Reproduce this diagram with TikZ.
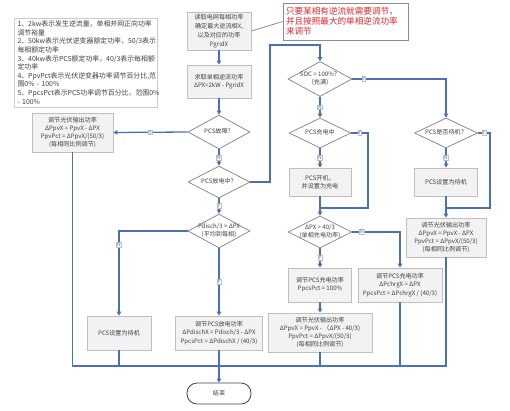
\documentclass[tikz,border=0pt]{standalone}
\usepackage{fontspec}
\setmainfont{Noto Sans CJK SC}
\usetikzlibrary{shapes.geometric,arrows.meta}
\definecolor{lineblue}{HTML}{4A70B5}
\definecolor{boxfill}{HTML}{F2F2F2}
\definecolor{boxdraw}{HTML}{BFBFBF}
\definecolor{diadraw}{HTML}{8C8C8C}
\definecolor{txt}{HTML}{404040}
\definecolor{redtxt}{HTML}{E0262A}
\newcommand{\bxfont}{\fontsize{6.1}{8.2}\selectfont}
\newcommand{\zt}[1]{\makebox[0pt]{\raisebox{-1.5pt}[0pt][0pt]{\begin{tabular}{@{}c@{}}#1\end{tabular}}}}
\tikzset{
  box/.style={draw=boxdraw, fill=boxfill, line width=0.8pt, inner sep=0pt, align=center, font=\bxfont, text=txt},
  dia/.style={diamond, draw=diadraw, fill=white, line width=0.8pt, inner sep=0pt, font=\bxfont, text=txt},
  arr/.style={draw=lineblue, line width=1.3pt, -{Triangle[width=4.5pt,length=4pt]}},
  ln/.style={draw=lineblue, line width=1.3pt},
  lab/.style={fill=white, draw=boxdraw, line width=0.4pt, inner sep=0.6pt, font=\fontsize{5}{5.5}\selectfont, text=lineblue},
}
\begin{document}
\begin{tikzpicture}[x=1pt,y=-1pt]
\useasboundingbox (0,0) rectangle (510,410);
% notes
\node[draw=boxdraw!80, fill=white, line width=0.7pt, inner sep=0pt, minimum width=143pt, minimum height=89pt,
      text width=136pt, align=left, font=\fontsize{6.9}{8.6}\selectfont, text=txt] (notes) at (85.5,62.5)
  {1、2kw表示发生逆流量，单相并网正向功率\\调节裕量\\2、50kw表示光伏逆变器额定功率，50/3表示\\每相额定功率\\3、40kw表示PCS额定功率，40/3表示每相额\\定功率\\4、PpvPct表示光伏逆变器功率调节百分比,范\\围0\% - 100\%\\5、PpcsPct表示PCS功率调节百分比，范围0\%\\- 100\%};
% callout
\node[draw=diadraw, fill=white, line width=0.8pt, inner sep=0pt, minimum width=125pt, minimum height=37pt,
      text width=119pt, align=left, font=\fontsize{8.6}{10}\selectfont, text=redtxt] (callout) at (345.5,21.5)
  {只要某相有逆流就需要调节，\\并且按照最大的单相逆流功率\\来调节};
% central column
\node[box, minimum width=64pt, minimum height=38pt, font=\fontsize{6.1}{8.8}\selectfont] (read) at (219,31) {读取电网每相功率\\确定最大逆流相X,\\以及对应的功率\\PgridX};
\node[box, minimum width=64pt, minimum height=33pt] (calc) at (219,81.5) {求取单相逆流功率\\ΔPX=2kW - PgridX};
\node[dia, minimum width=62pt, minimum height=34pt] (dfault) at (219,132) {\zt{PCS故障？}};
\node[dia, minimum width=62pt, minimum height=32pt] (ddis) at (219,182) {\zt{PCS放电中？}};
\node[dia, minimum width=62pt, minimum height=34pt] (dpd) at (219,231) {\zt{Pdisch/3 > ΔPX\\(平均到每相)}};
\node[box, minimum width=81pt, minimum height=39pt] (pvL) at (72.5,132.5) {调节光伏输出功率\\ΔPpvX = PpvX - ΔPX\\PpvPct = ΔPpvX/(50/3)\\(每相同比例调节)};
\node[box, minimum width=64pt, minimum height=34pt] (sbL) at (119,333) {PCS设置为待机};
\node[box, minimum width=87pt, minimum height=34pt] (dis) at (219,333) {调节PCS放电功率\\ΔPdischX = Pdisch/3 - ΔPX\\PpcsPct = ΔPdischX / (40/3)};
\node[draw=txt, fill=white, line width=0.8pt, rounded corners=10pt, inner sep=0pt, minimum width=64pt, minimum height=21pt, font=\bxfont, text=txt] (fin) at (219,393.5) {结束};
% second column
\node[dia, minimum width=64pt, minimum height=35pt] (dsoc) at (320,79) {\zt{SOC = 100\%？\\（充满）}};
\node[dia, minimum width=62pt, minimum height=30pt] (dchg) at (320,133) {\zt{PCS充电中}};
\node[box, minimum width=62pt, minimum height=28pt] (on) at (320,182) {PCS开机，\\并设置为充电};
\node[dia, minimum width=64pt, minimum height=32pt] (dpx) at (320,232) {\zt{ΔPX > 40/3\\(单相充电功率)}};
\node[box, minimum width=63pt, minimum height=34pt] (c100) at (320,285) {调节PCS充电功率\\PpcsPct = 100\%};
\node[box, minimum width=104pt, minimum height=39pt] (pv2) at (320,332.5) {调节光伏输出功率\\ΔPpvX = PpvX - （ΔPX - 40/3)\\PpvPct = ΔPpvX/(50/3)\\(每相同比例调节)};
\node[box, minimum width=84pt, minimum height=34pt] (chrg) at (400,285) {调节PCS充电功率\\ΔPchrgX = ΔPX\\PpcsPct = ΔPchrgX / (40/3)};
% third column
\node[dia, minimum width=63pt, minimum height=30pt] (dsb) at (446,133) {\zt{PCS是否待机？}};
\node[box, minimum width=63pt, minimum height=28pt] (sbR) at (446,182) {PCS设置为待机};
\node[box, minimum width=80pt, minimum height=39pt] (pvR) at (446,237.5) {调节光伏输出功率\\ΔPpvX = PpvX - ΔPX\\PpvPct = ΔPpvX/(50/3)\\(每相同比例调节)};
% helper coordinates
\coordinate (j1) at (270,45);
\coordinate (j2) at (368,208);
\coordinate (m1) at (320,208);
\coordinate (j3) at (490,208);
\coordinate (m2) at (446,208);
\coordinate (busy) at (0,366);
% connectors
\draw[draw=diadraw, line width=0.8pt] (callout.west) -- (read.east);
\draw[arr] (read.south) -- (calc.north);
\draw[arr] (calc.south) -- (dfault.north);
\draw[arr] (dfault.west) -- node[lab]{Y} (pvL.east);
\draw[arr] (dfault.south) -- node[lab]{N} (ddis.north);
\draw[arr] (ddis.east) -| (j1) -| (dsoc.north);
\draw[arr] (ddis.south) -- node[lab]{Y} (dpd.north);
\draw[arr] (dpd.west) -| node[lab,pos=0.58]{N} (sbL.north);
\draw[arr] (dpd.south) -- node[lab]{Y} (dis.north);
\draw[arr] (dis.south) -- (fin.north);
\draw[ln] (pvL.south) |- (pvR.south |- busy) -- (pvR.south);
\draw[ln] (sbL.south) -- (sbL.south |- busy);
\draw[ln] (pv2.south) -- (pv2.south |- busy);
\draw[ln] (chrg.south) -- (chrg.south |- busy);
\draw[arr] (dsoc.east) -| node[lab,pos=0.06]{Y} (dsb.north);
\draw[arr] (dsoc.south) -- node[lab]{N} (dchg.north);
\draw[ln] (dchg.east) -- node[lab]{Y} (dchg.east -| j2) -- (j2) -- (m1);
\draw[arr] (dchg.south) -- node[lab]{N} (on.north);
\draw[arr] (on.south) -- (dpx.north);
\draw[ln] (dsb.east) -- node[lab]{Y} (dsb.east -| j3) -- (j3) -- (m2);
\draw[arr] (dsb.south) -- node[lab]{N} (sbR.north);
\draw[arr] (sbR.south) -- (pvR.north);
\draw[arr] (dpx.south) -- node[lab]{Y} (c100.north);
\draw[arr] (dpx.east) -| node[lab,pos=0.1]{N} (chrg.north);
\draw[arr] (c100.south) -- (pv2.north);
\end{tikzpicture}
\end{document}
